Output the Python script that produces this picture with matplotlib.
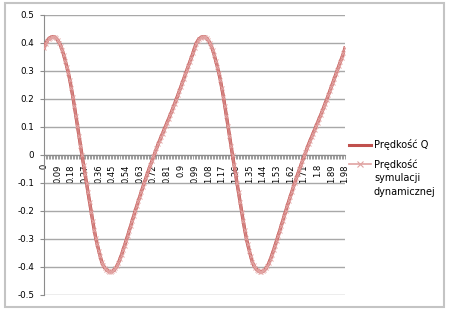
import numpy as np
import matplotlib
matplotlib.use("Agg")
import matplotlib.pyplot as plt
from matplotlib.lines import Line2D
from matplotlib.patches import Rectangle

# time categories 0.00 .. 1.98 (step 0.01)
t_cat = np.round(np.arange(199) * 0.01, 2)

# velocity (two periods of ~0.99)
v_q = [
    0.380, 0.395, 0.405, 0.413, 0.417, 0.420, 0.421, 0.420, 0.415, 0.408,
    0.400, 0.388, 0.373, 0.355, 0.335, 0.314, 0.292, 0.266, 0.236, 0.206,
    0.172, 0.138, 0.103, 0.067, 0.032, -0.003, -0.036, -0.068, -0.100, -0.134,
    -0.170, -0.204, -0.236, -0.268, -0.297, -0.321, -0.343, -0.364, -0.384, -0.396,
    -0.405, -0.411, -0.415, -0.418, -0.419, -0.417, -0.413, -0.407, -0.398, -0.387,
    -0.373, -0.358, -0.342, -0.325, -0.308, -0.291, -0.273, -0.255, -0.237, -0.219,
    -0.201, -0.184, -0.167, -0.150, -0.133, -0.117, -0.100, -0.084, -0.068, -0.053,
    -0.038, -0.022, -0.007, 0.008, 0.022, 0.036, 0.049, 0.062, 0.075, 0.088,
    0.101, 0.114, 0.127, 0.140, 0.154, 0.168, 0.182, 0.196, 0.211, 0.226,
    0.241, 0.256, 0.271, 0.286, 0.301, 0.316, 0.331, 0.346, 0.362,
    0.380, 0.395, 0.405, 0.413, 0.417, 0.420, 0.421, 0.420, 0.415, 0.408,
    0.400, 0.388, 0.373, 0.355, 0.335, 0.314, 0.292, 0.266, 0.236, 0.206,
    0.172, 0.138, 0.103, 0.067, 0.032, -0.003, -0.036, -0.068, -0.100, -0.134,
    -0.170, -0.204, -0.236, -0.268, -0.297, -0.321, -0.343, -0.364, -0.384, -0.396,
    -0.405, -0.411, -0.415, -0.418, -0.419, -0.417, -0.413, -0.407, -0.398, -0.387,
    -0.373, -0.358, -0.342, -0.325, -0.308, -0.291, -0.273, -0.255, -0.237, -0.219,
    -0.201, -0.184, -0.167, -0.150, -0.133, -0.117, -0.100, -0.084, -0.068, -0.053,
    -0.038, -0.022, -0.007, 0.008, 0.022, 0.036, 0.049, 0.062, 0.075, 0.088,
    0.101, 0.114, 0.127, 0.140, 0.154, 0.168, 0.182, 0.196, 0.211, 0.226,
    0.241, 0.256, 0.271, 0.286, 0.301, 0.316, 0.331, 0.346, 0.362,
    0.380,
]
# simulated velocity overlaps the Q curve
v_sim = list(v_q)

y_ticks = [-0.5, -0.4, -0.3, -0.2, -0.1, 0, 0.1, 0.2, 0.3, 0.4, 0.5]
label_step = 9
series_names = ["Prędkość Q", "Prędkość\nsymulacji\ndynamicznej"]

W, H = 449, 310
fig = plt.figure(figsize=(W / 100, H / 100), dpi=100)
fig.patch.set_facecolor("white")
fig.add_artist(Rectangle((5 / W, 3 / H), 439 / W, 304 / H, transform=fig.transFigure,
                         fill=False, edgecolor="#c4c4c4", lw=1.5))

ax = fig.add_axes([44 / W, 1 - 294.5 / H, 301 / W, (294.5 - 14.5) / H])
x = np.arange(len(t_cat))
ax.plot(x, v_q, color="#c0504d", lw=2.4, zorder=3)
ax.plot(x, v_sim, color="#d3817f", lw=1.8, marker="x", ms=3.5, mew=0.7,
        mec="#e3a5a4", zorder=4)

ax.set_xlim(0, len(t_cat) - 1)
ax.set_ylim(-0.5, 0.5)
ax.set_yticks(y_ticks)
ax.set_yticklabels([f"{v:g}" for v in y_ticks])
ax.yaxis.grid(True, color="#a8a8a8", lw=1)
ax.set_axisbelow(True)

ax.set_xticks(x)
ax.set_xticklabels([f"{t:g}" if i % label_step == 0 else "" for i, t in enumerate(t_cat)])
for s in ["top", "right"]:
    ax.spines[s].set_visible(False)
ax.spines["bottom"].set_position(("data", 0))
ax.spines["bottom"].set_color("#8c8c8c")
ax.spines["left"].set_color("#8c8c8c")
ax.tick_params(axis="x", length=3, width=0.6, color="#8c8c8c", pad=4,
               labelrotation=90, labelsize=6)
ax.tick_params(axis="y", length=3, color="#8c8c8c", pad=4, labelsize=6.3)

# legend drawn at the right
lx0, lx1 = 349 / W, 371 / W
y1 = 1 - 144.6 / H
fig.add_artist(Line2D([lx0, lx1], [y1, y1], transform=fig.transFigure,
                      color="#c0504d", lw=2.2))
fig.text(374 / W, y1, series_names[0], fontsize=7, va="center")
y2 = 1 - 164 / H
fig.add_artist(Line2D([lx0, lx1], [y2, y2], transform=fig.transFigure,
                      color="#e0a3a2", lw=1.2))
fig.add_artist(Line2D([(lx0 + lx1) / 2], [y2], transform=fig.transFigure,
                      color="#e0a3a2", marker="x", ms=4, mew=0.8, lw=0))
for k, line in enumerate(series_names[1].split("\n")):
    fig.text(374 / W, 1 - (164 + 14 * k) / H, line, fontsize=7, va="center")

fig.savefig("out.png", dpi=100)
